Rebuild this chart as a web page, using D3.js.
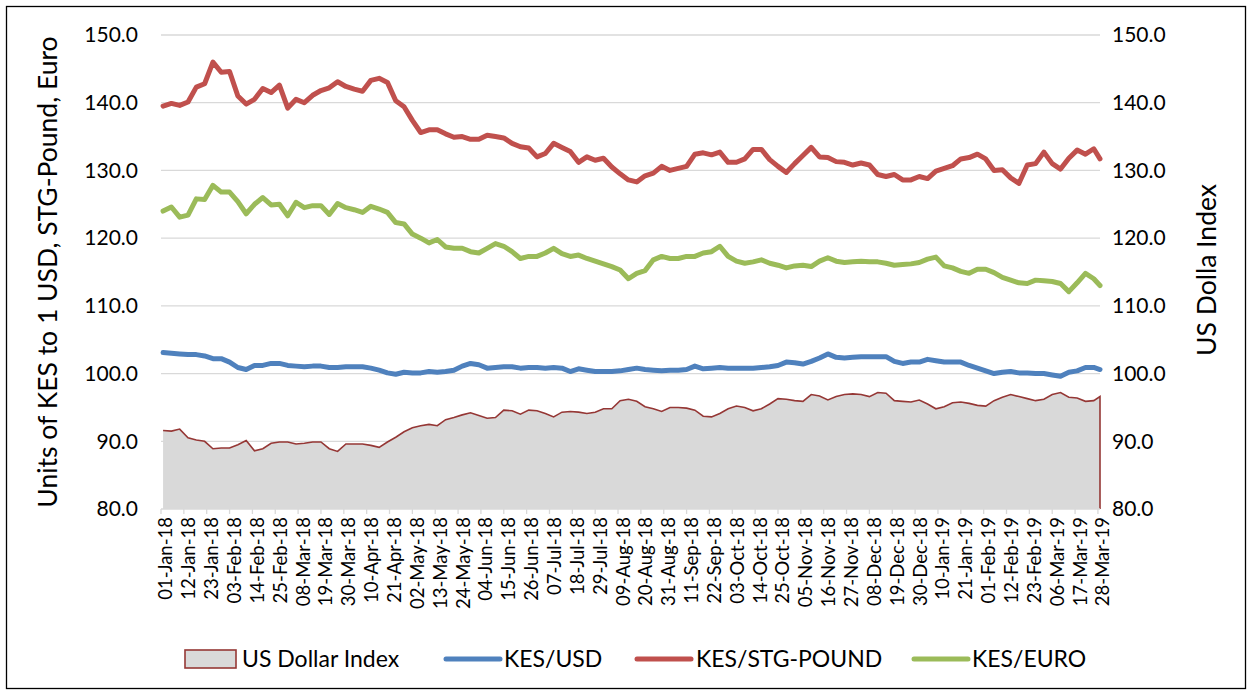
<!DOCTYPE html>
<html>
<head>
<meta charset="utf-8">
<script src="https://cdn.jsdelivr.net/npm/d3@7"></script>
<style>
  body { margin: 0; background: #fff; }
  text { font-family: Lato, "Open Sans", sans-serif; fill: #000; }
</style>
</head>
<body>
<script>
// sample dates (every 4th day)
const dates = [
  "2018-01-02","2018-01-06","2018-01-10","2018-01-14","2018-01-18","2018-01-22","2018-01-26","2018-01-30","2018-02-03","2018-02-07",
  "2018-02-11","2018-02-15","2018-02-19","2018-02-23","2018-02-27","2018-03-03","2018-03-07","2018-03-11","2018-03-15","2018-03-19",
  "2018-03-23","2018-03-27","2018-03-31","2018-04-04","2018-04-08","2018-04-12","2018-04-16","2018-04-20","2018-04-24","2018-04-28",
  "2018-05-02","2018-05-06","2018-05-10","2018-05-14","2018-05-18","2018-05-22","2018-05-26","2018-05-30","2018-06-03","2018-06-07",
  "2018-06-11","2018-06-15","2018-06-19","2018-06-23","2018-06-27","2018-07-01","2018-07-05","2018-07-09","2018-07-13","2018-07-17",
  "2018-07-21","2018-07-25","2018-07-29","2018-08-02","2018-08-06","2018-08-10","2018-08-14","2018-08-18","2018-08-22","2018-08-26",
  "2018-08-30","2018-09-03","2018-09-07","2018-09-11","2018-09-15","2018-09-19","2018-09-23","2018-09-27","2018-10-01","2018-10-05",
  "2018-10-09","2018-10-13","2018-10-17","2018-10-21","2018-10-25","2018-10-29","2018-11-02","2018-11-06","2018-11-10","2018-11-14",
  "2018-11-18","2018-11-22","2018-11-26","2018-11-30","2018-12-04","2018-12-08","2018-12-12","2018-12-16","2018-12-20","2018-12-24",
  "2018-12-28","2019-01-01","2019-01-05","2019-01-09","2019-01-13","2019-01-17","2019-01-21","2019-01-25","2019-01-29","2019-02-02",
  "2019-02-06","2019-02-10","2019-02-14","2019-02-18","2019-02-22","2019-02-26","2019-03-02","2019-03-06","2019-03-10","2019-03-14",
  "2019-03-18","2019-03-22","2019-03-26","2019-03-29"
];

const usdIndex = [
  91.6,91.5,91.8,90.5,90.2,90.0,88.9,89.0,89.0,89.5,
  90.1,88.6,88.9,89.7,89.9,89.9,89.6,89.7,89.9,89.9,
  88.9,88.5,89.6,89.6,89.6,89.4,89.1,89.9,90.6,91.4,
  92.0,92.3,92.5,92.3,93.2,93.5,93.9,94.2,93.8,93.4,
  93.5,94.6,94.5,94.0,94.6,94.5,94.1,93.6,94.3,94.4,
  94.3,94.1,94.3,94.8,94.8,96.0,96.2,95.9,95.1,94.8,
  94.4,95.0,95.0,94.9,94.6,93.7,93.6,94.1,94.8,95.2,
  95.0,94.5,94.8,95.5,96.3,96.2,96.0,95.9,96.9,96.7,
  96.1,96.6,96.9,97.0,96.9,96.6,97.2,97.1,96.0,95.9,
  95.8,96.1,95.5,94.8,95.1,95.7,95.8,95.6,95.3,95.2,
  96.0,96.5,96.9,96.6,96.3,96.0,96.2,96.9,97.2,96.5,
  96.4,95.9,96.0,96.6
];

const kesUsd = [
  103.1,103.0,102.9,102.8,102.8,102.6,102.2,102.2,101.7,100.9,
  100.6,101.2,101.2,101.5,101.5,101.2,101.1,101.0,101.1,101.1,
  100.9,100.9,101.0,101.0,101.0,100.8,100.5,100.1,99.9,100.2,
  100.1,100.1,100.3,100.2,100.3,100.5,101.1,101.5,101.3,100.8,
  100.9,101.0,101.0,100.8,100.9,100.9,100.8,100.9,100.8,100.3,
  100.7,100.5,100.3,100.3,100.3,100.4,100.6,100.8,100.6,100.5,
  100.4,100.5,100.5,100.6,101.1,100.7,100.8,100.9,100.8,100.8,
  100.8,100.8,100.9,101.0,101.2,101.7,101.6,101.4,101.8,102.3,
  102.9,102.4,102.3,102.4,102.5,102.5,102.5,102.5,101.8,101.5,
  101.7,101.7,102.1,101.9,101.7,101.7,101.7,101.2,100.8,100.4,
  100.0,100.2,100.3,100.1,100.1,100.0,100.0,99.8,99.6,100.2,
  100.4,100.9,100.9,100.6
];

const kesStg = [
  139.5,139.9,139.6,140.1,142.3,142.8,146.0,144.5,144.6,141.0,
  139.8,140.5,142.1,141.5,142.6,139.2,140.5,140.0,141.1,141.8,
  142.2,143.1,142.4,142.0,141.7,143.3,143.6,143.0,140.3,139.4,
  137.4,135.6,136.0,136.0,135.4,134.9,135.0,134.6,134.6,135.2,
  135.0,134.8,134.0,133.5,133.3,132.0,132.5,134.0,133.4,132.8,
  131.2,132.0,131.5,131.8,130.5,129.5,128.6,128.3,129.2,129.6,
  130.6,130.0,130.3,130.6,132.4,132.6,132.3,132.7,131.2,131.2,
  131.7,133.1,133.1,131.6,130.6,129.7,131.0,132.2,133.4,132.0,
  131.9,131.3,131.2,130.8,131.1,130.8,129.4,129.1,129.4,128.6,
  128.6,129.1,128.8,129.9,130.3,130.7,131.7,131.9,132.4,131.7,
  130.0,130.1,128.9,128.1,130.8,131.0,132.7,131.0,130.2,131.8,
  133.0,132.4,133.2,131.7
];

const kesEuro = [
  124.0,124.6,123.1,123.4,125.8,125.7,127.8,126.8,126.8,125.4,
  123.6,125.0,126.0,124.9,125.0,123.3,125.3,124.5,124.8,124.8,
  123.5,125.1,124.5,124.2,123.8,124.7,124.3,123.8,122.3,122.1,
  120.6,120.0,119.3,119.8,118.7,118.5,118.5,118.0,117.8,118.5,
  119.2,118.8,118.0,117.0,117.3,117.3,117.8,118.5,117.7,117.3,
  117.5,117.0,116.6,116.2,115.8,115.3,114.0,114.8,115.2,116.8,
  117.3,117.0,117.0,117.3,117.3,117.8,118.0,118.8,117.3,116.6,
  116.3,116.5,116.8,116.3,116.0,115.6,115.9,116.0,115.8,116.6,
  117.1,116.6,116.4,116.5,116.6,116.5,116.5,116.3,116.0,116.1,
  116.2,116.4,116.9,117.2,115.9,115.6,115.1,114.8,115.4,115.4,
  114.9,114.2,113.8,113.4,113.3,113.8,113.7,113.6,113.3,112.1,
  113.4,114.8,114.0,113.0
];

const tickLabels = [
  "01-Jan-18","12-Jan-18","23-Jan-18","03-Feb-18","14-Feb-18","25-Feb-18","08-Mar-18","19-Mar-18","30-Mar-18",
  "10-Apr-18","21-Apr-18","02-May-18","13-May-18","24-May-18","04-Jun-18","15-Jun-18","26-Jun-18","07-Jul-18",
  "18-Jul-18","29-Jul-18","09-Aug-18","20-Aug-18","31-Aug-18","11-Sep-18","22-Sep-18","03-Oct-18","14-Oct-18",
  "25-Oct-18","05-Nov-18","16-Nov-18","27-Nov-18","08-Dec-18","19-Dec-18","30-Dec-18","10-Jan-19","21-Jan-19",
  "01-Feb-19","12-Feb-19","23-Feb-19","06-Mar-19","17-Mar-19","28-Mar-19"
];

const yTicks = [80, 90, 100, 110, 120, 130, 140, 150];

const series = [
  { name: "KES/USD", values: kesUsd, color: "#4f81bd" },
  { name: "KES/STG-POUND", values: kesStg, color: "#c0504d" },
  { name: "KES/EURO", values: kesEuro, color: "#9bbb59" }
];

const width = 1252, height = 695;
const plot = { left: 161, right: 1100, top: 35, bottom: 509 };

const parseDate = d3.timeParse("%Y-%m-%d");
const parseTick = d3.timeParse("%d-%b-%y");
const dateObjs = dates.map(parseDate);

const x = d3.scaleTime()
  .domain([parseDate("2018-01-01"), parseDate("2019-03-29")])
  .range([plot.left, plot.right]);

const y = d3.scaleLinear()
  .domain([80, 150])
  .range([plot.bottom, plot.top]);

const svg = d3.select("body").append("svg")
  .attr("width", width)
  .attr("height", height);

// outer frame
svg.append("rect")
  .attr("x", 6.5).attr("y", 6.5)
  .attr("width", width - 13).attr("height", height - 13)
  .attr("fill", "none")
  .attr("stroke", "#000")
  .attr("stroke-width", 1.3);

// gridlines
svg.append("g")
  .selectAll("line")
  .data(yTicks.slice(1))
  .join("line")
  .attr("x1", plot.left).attr("x2", plot.right)
  .attr("y1", d => y(d)).attr("y2", d => y(d))
  .attr("stroke", "#d9d9d9")
  .attr("stroke-width", 1.3);

// US dollar index area
const areaData = dateObjs.map((d, i) => ({ date: d, v: usdIndex[i] }));

svg.append("path")
  .datum(areaData)
  .attr("fill", "#d9d9d9")
  .attr("d", d3.area()
    .x(d => x(d.date))
    .y0(y(80))
    .y1(d => y(d.v)));

const last = areaData[areaData.length - 1];
svg.append("path")
  .datum(areaData.concat([{ date: last.date, v: 80 }]))
  .attr("fill", "none")
  .attr("stroke", "#953735")
  .attr("stroke-width", 1.6)
  .attr("d", d3.line().x(d => x(d.date)).y(d => y(d.v)));

// x axis line and ticks
svg.append("line")
  .attr("x1", plot.left).attr("x2", plot.right)
  .attr("y1", plot.bottom).attr("y2", plot.bottom)
  .attr("stroke", "#d9d9d9")
  .attr("stroke-width", 1.3);

const tickDates = tickLabels.map(parseTick);

svg.append("g")
  .selectAll("line")
  .data(tickDates)
  .join("line")
  .attr("x1", d => x(d)).attr("x2", d => x(d))
  .attr("y1", plot.bottom).attr("y2", plot.bottom + 5)
  .attr("stroke", "#d9d9d9")
  .attr("stroke-width", 1.3);

svg.append("g")
  .selectAll("text")
  .data(tickLabels)
  .join("text")
  .attr("transform", (d, i) => `translate(${x(tickDates[i]) + 5},${plot.bottom + 8}) rotate(-90)`)
  .attr("text-anchor", "end")
  .attr("dy", "0.35em")
  .style("font-size", "18.5px")
  .text(d => d);

// exchange-rate lines
const line = d3.line()
  .x((d, i) => x(dateObjs[i]))
  .y(d => y(d));

svg.append("g")
  .selectAll("path")
  .data(series)
  .join("path")
  .attr("fill", "none")
  .attr("stroke", d => d.color)
  .attr("stroke-width", 5)
  .attr("stroke-linejoin", "round")
  .attr("stroke-linecap", "round")
  .attr("d", d => line(d.values));

// y axis labels, both sides
const fmt = d3.format(".1f");
svg.append("g")
  .selectAll("text")
  .data(yTicks)
  .join("text")
  .attr("x", 138)
  .attr("y", d => y(d))
  .attr("dy", "0.35em")
  .attr("text-anchor", "end")
  .style("font-size", "21px")
  .text(fmt);

svg.append("g")
  .selectAll("text")
  .data(yTicks)
  .join("text")
  .attr("x", 1112)
  .attr("y", d => y(d))
  .attr("dy", "0.35em")
  .style("font-size", "21px")
  .text(fmt);

// axis titles
svg.append("text")
  .attr("transform", "translate(48,272) rotate(-90)")
  .attr("text-anchor", "middle")
  .attr("dy", "0.35em")
  .style("font-size", "26.5px")
  .text("Units of KES to 1 USD, STG-Pound, Euro");

svg.append("text")
  .attr("transform", "translate(1207,270) rotate(-90)")
  .attr("text-anchor", "middle")
  .attr("dy", "0.35em")
  .style("font-size", "26.5px")
  .text("US Dolla Index");

// legend
const legendY = 659;
const legend = svg.append("g");

legend.append("rect")
  .attr("x", 185).attr("y", legendY - 9)
  .attr("width", 51).attr("height", 18)
  .attr("fill", "#d9d9d9")
  .attr("stroke", "#953735")
  .attr("stroke-width", 1.6);

legend.append("text")
  .attr("x", 242).attr("y", legendY)
  .attr("dy", "0.35em")
  .style("font-size", "23px")
  .text("US Dollar Index");

const legendItems = [
  { s: series[0], x0: 446, x1: 500, tx: 504 },
  { s: series[1], x0: 637, x1: 691, tx: 696 },
  { s: series[2], x0: 914, x1: 968, tx: 972 }
];

legendItems.forEach(it => {
  legend.append("line")
    .attr("x1", it.x0).attr("x2", it.x1)
    .attr("y1", legendY).attr("y2", legendY)
    .attr("stroke", it.s.color)
    .attr("stroke-width", 5)
    .attr("stroke-linecap", "round");
  legend.append("text")
    .attr("x", it.tx).attr("y", legendY)
    .attr("dy", "0.35em")
    .style("font-size", "23px")
    .text(it.s.name);
});
</script>
</body>
</html>
